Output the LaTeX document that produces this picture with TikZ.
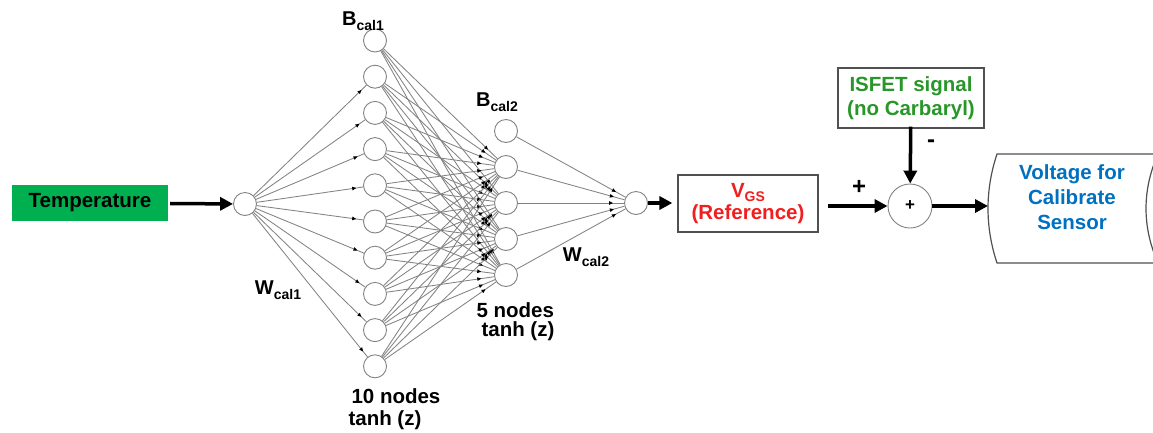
\documentclass[tikz,border=0pt]{standalone}
\usepackage{fontspec}
\setmainfont{Liberation Sans}
\usetikzlibrary{arrows.meta,decorations.markings}

\definecolor{tempgreen}{RGB}{0,176,80}
\definecolor{isfetgreen}{RGB}{40,150,40}
\definecolor{vgsred}{RGB}{240,30,30}
\definecolor{voltblue}{RGB}{0,112,192}
\definecolor{ringgray}{RGB}{130,130,130}
\definecolor{wiregray}{RGB}{130,130,130}
\definecolor{boxgray}{RGB}{80,80,80}

% symbol with a smaller lowered index, e.g. B_cal1
\newcommand\symsub[2]{#1\raisebox{-4.5pt}{\fontsize{14}{14}\selectfont #2}}

\tikzset{
  neuron/.style={circle, draw=ringgray, line width=0.9pt, fill=white,
                 minimum size=23pt, inner sep=0pt},
  wire/.style={draw=wiregray, line width=0.85pt},
  tipat/.style={postaction={decorate},
    decoration={markings, mark=at position -#1 with
      {\arrow[black]{Triangle[length=4pt,width=3.5pt]}}}},
  bigarrow/.style={line width=3.5pt, -{Triangle[length=13pt,width=13pt]}},
  txt/.style={font=\fontsize{20.5}{25}\selectfont\bfseries, align=center},
  sym/.style={font=\fontsize{20}{22}\selectfont\bfseries},
  framed/.style={draw=boxgray, line width=1.2pt}
}

\begin{document}
\begin{tikzpicture}[x=1pt,y=-1pt]
\clip (0,0) rectangle (1153,432);

% input block
\node[txt, fill=tempgreen, minimum width=156pt, minimum height=36pt,
      inner sep=0pt] (temp) at (90,203) {Temperature};
\node[neuron] (in) at (245,204) {};

% hidden layer 1 (first node is the bias)
\foreach \i in {1,...,10}
  \node[neuron] (h\i) at (375,{40.5+36.2*(\i-1)}) {};
% hidden layer 2 (first node is the bias)
\foreach \j in {1,...,5}
  \node[neuron] (g\j) at (506,{131+36*(\j-1)}) {};
% output neuron
\node[neuron] (out) at (636,203) {};

% weights: input -> layer 1
\foreach \i in {2,...,10}
  \draw[wire, tipat=7pt] (in) -- (h\i);
% weights: layer 1 -> layer 2
\foreach \i in {1,...,10}
  \foreach \j in {2,...,5}
    \draw[wire, tipat=13pt] (h\i) -- (g\j);
% weights: layer 2 -> output
\foreach \j in {1,...,5}
  \draw[wire, tipat=11pt] (g\j) -- (out);

% layer labels
\node[sym] (b1) at (363,21) {\symsub{B}{cal1}};
\node[sym] (b2) at (497,102) {\symsub{B}{cal2}};
\node[sym] (w1) at (278,290) {\symsub{W}{cal1}};
\node[sym] (w2) at (586,257) {\symsub{W}{cal2}};
\node[txt, anchor=west] (n5a) at (473,310) {5 nodes};
\node[txt, anchor=west] (n5b) at (478,331) {tanh (z)};
\node[txt, anchor=west] (n10a) at (348,396) {10 nodes};
\node[txt, anchor=west] (n10b) at (345,420) {tanh (z)};

% reference voltage, correction signal and summing junction
\node[txt, framed, text=vgsred, minimum width=140pt, minimum height=57pt,
      inner sep=0pt] (vgs) at (748,203.5)
      {\symsub{V}{GS}\\[-3pt](Reference)};
\node[txt, framed, text=isfetgreen, minimum width=146pt, minimum height=60pt,
      inner sep=0pt] (isfet) at (911,98) {ISFET signal\\[-1pt](no Carbaryl)};
\node[circle, draw=ringgray, line width=0.9pt, minimum size=44pt,
      inner sep=0pt, font=\fontsize{17}{17}\selectfont\bfseries] (sum) at (910,206) {+};
\node[txt, font=\fontsize{24}{24}\selectfont\bfseries] (plus) at (859,187) {+};
\node[txt, font=\fontsize{24}{24}\selectfont\bfseries] (minus) at (931,144) {-};

% stored voltage block
\draw[framed] (997,154) -- (1158,154)
  .. controls (1142,190) and (1142,227) .. (1158,263)
  -- (997,263)
  .. controls (985,227) and (985,190) .. cycle;
\coordinate (vin) at (988,206);
\node[txt, text=voltblue] (volt) at (1072,197) {Voltage for\\Calibrate\\Sensor};

% signal flow
\draw[bigarrow, shorten <=2pt] (temp) -- (in);
\draw[bigarrow, shorten >=5pt] (out) -- (out -| vgs.west);
\draw[bigarrow, shorten <=9pt] (vgs.east |- sum) -- (sum);
\draw[bigarrow, shorten <=-2pt] (isfet) -- (sum);
\draw[bigarrow] (sum) -- (vin);
\end{tikzpicture}
\end{document}
